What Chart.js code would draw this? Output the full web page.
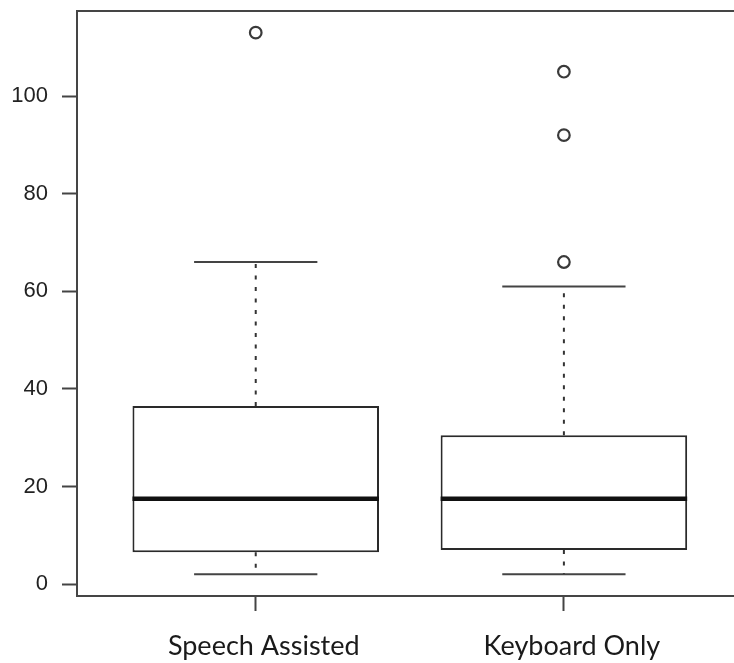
<!DOCTYPE html>
<html>
<head>
<meta charset="utf-8">
<script src="https://cdn.jsdelivr.net/npm/chart.js@4.4.0/dist/chart.umd.min.js"></script>
<style>
  html, body { margin: 0; padding: 0; background: #fff; overflow: hidden; }
  #wrap { width: 734px; height: 663px; position: relative; }
  canvas { display: block; }
</style>
</head>
<body>
<div id="wrap"><canvas id="boxplot"></canvas></div>
<script>
// data
const categories = ['Speech Assisted', 'Keyboard Only'];
const whiskerLow = [2, 2];
const q1 = [6.5, 7];
const medians = [17.5, 17.5];
const q3 = [36.5, 30.5];
const whiskerHigh = [66, 61];
const outliers = [[113], [66, 92, 105]];
const yTicks = [0, 20, 40, 60, 80, 100];

const xPos = categories.map((c, i) => i + 1);

// box parts the bar element can't do: whiskers, staples, median
const boxParts = {
  id: 'boxParts',
  beforeDatasetsDraw(chart) {
    const { ctx, chartArea: a } = chart;
    ctx.save();
    ctx.strokeStyle = '#454545';
    ctx.lineWidth = 2;
    ctx.beginPath();
    ctx.moveTo(a.right + 2, a.top);
    ctx.lineTo(a.left, a.top);
    ctx.lineTo(a.left, a.bottom);
    ctx.lineTo(a.right + 2, a.bottom);
    ctx.stroke();
    ctx.restore();
  },
  afterDatasetsDraw(chart) {
    const { ctx } = chart;
    const xs = chart.scales.x;
    const ys = chart.scales.y;
    const unit = xs.getPixelForValue(2) - xs.getPixelForValue(1);
    const boxW = unit * 0.8;
    const capW = boxW * 0.5;
    ctx.save();
    xPos.forEach((xv, i) => {
      const cx = xs.getPixelForValue(xv);
      // dashed whiskers
      ctx.strokeStyle = '#333';
      ctx.lineWidth = 2;
      ctx.setLineDash([4, 7.5]);
      ctx.beginPath();
      ctx.moveTo(cx, ys.getPixelForValue(q3[i]));
      ctx.lineTo(cx, ys.getPixelForValue(whiskerHigh[i]));
      ctx.moveTo(cx, ys.getPixelForValue(q1[i]));
      ctx.lineTo(cx, ys.getPixelForValue(whiskerLow[i]));
      ctx.stroke();
      // staples
      ctx.setLineDash([]);
      ctx.strokeStyle = '#444';
      ctx.beginPath();
      [whiskerHigh[i], whiskerLow[i]].forEach(v => {
        const y = ys.getPixelForValue(v);
        ctx.moveTo(cx - capW / 2, y);
        ctx.lineTo(cx + capW / 2, y);
      });
      ctx.stroke();
      // median
      ctx.strokeStyle = '#111';
      ctx.lineWidth = 4.5;
      const my = ys.getPixelForValue(medians[i]);
      ctx.beginPath();
      ctx.moveTo(cx - boxW / 2, my);
      ctx.lineTo(cx + boxW / 2, my);
      ctx.stroke();
    });
    ctx.restore();
  }
};

function noPad(s) {
  s.paddingTop = 0;
  s.paddingBottom = 0;
  s.paddingLeft = 0;
  s.paddingRight = 0;
}

const ctx = document.getElementById('boxplot').getContext('2d');

new Chart(ctx, {
  type: 'bar',
  data: {
    datasets: [
      {
        data: xPos.map((xv, i) => ({ x: xv, y: [q1[i], q3[i]] })),
        backgroundColor: '#ffffff',
        borderColor: '#2a2a2a',
        borderWidth: 2,
        borderSkipped: false,
        barPercentage: 0.8,
        categoryPercentage: 1
      },
      {
        type: 'scatter',
        data: outliers.flatMap((vals, i) => vals.map(v => ({ x: xPos[i], y: v }))),
        pointStyle: 'circle',
        pointRadius: 5.8,
        pointBorderWidth: 2.2,
        pointBorderColor: '#3a3a3a',
        pointBackgroundColor: 'rgba(255,255,255,0)'
      }
    ]
  },
  options: {
    responsive: true,
    maintainAspectRatio: false,
    animation: false,
    layout: { autoPadding: false, padding: { top: 11, right: 0, left: 0, bottom: 0 } },
    plugins: {
      legend: { display: false },
      tooltip: { enabled: false }
    },
    scales: {
      x: {
        type: 'linear',
        min: 0.42,
        max: 2.552,
        offset: false,
        afterBuildTicks: s => { s.ticks = xPos.map(v => ({ value: v })); },
        afterFit: s => { s.height = 67; noPad(s); },
        grid: { offset: false, drawOnChartArea: false, tickLength: 15, tickColor: '#444', tickWidth: 2 },
        border: { display: false },
        ticks: {
          callback: v => categories[v - 1],
          labelOffset: 8,
          padding: 19,
          maxRotation: 0,
          color: '#1a1a1a',
          font: { family: 'Lato', size: 27 }
        }
      },
      y: {
        min: -2.44,
        max: 117.44,
        afterBuildTicks: s => { s.ticks = yTicks.map(v => ({ value: v })); },
        afterFit: s => { s.width = 77; noPad(s); },
        grid: { drawOnChartArea: false, tickLength: 15, tickColor: '#444', tickWidth: 2 },
        border: { display: false },
        ticks: {
          padding: 14,
          color: '#222',
          font: { family: 'Liberation Sans', size: 22 }
        }
      }
    }
  },
  plugins: [boxParts]
});
</script>
</body>
</html>
